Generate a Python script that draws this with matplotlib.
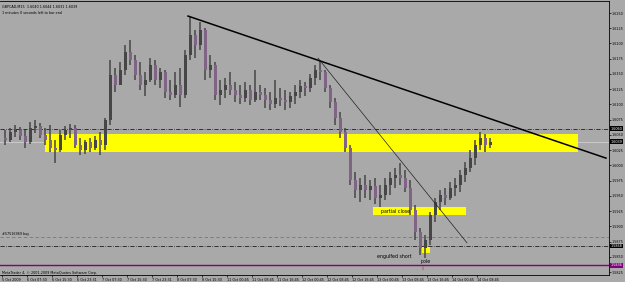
import matplotlib
matplotlib.use("Agg")
import matplotlib.pyplot as plt
from matplotlib.patches import Rectangle
import numpy as np

HEADER = "GBPCAD,M15  1.6040 1.6044 1.6031 1.6039"
SUBHEADER = "1 minutes 0 seconds left to bar end"
COPYRIGHT = "MetaTrader 4, \u00a9 2001-2009 MetaQuotes Software Corp."

# M15 bars (resampled, one bar every ~5 px)
OPEN = [1.6045, 1.6042, 1.6055, 1.6058, 1.6048, 1.6038, 1.6061, 1.6065, 1.6050, 1.6042,
        1.6029, 1.6025, 1.6050, 1.6058, 1.6061, 1.6034, 1.6025, 1.6038, 1.6029, 1.6042,
        1.6034, 1.6075, 1.6148, 1.6132, 1.6157, 1.6186, 1.6173, 1.6148, 1.6132, 1.6140,
        1.6165, 1.6140, 1.6153, 1.6120, 1.6116, 1.6132, 1.6116, 1.6181, 1.6214, 1.6198,
        1.6222, 1.6157, 1.6165, 1.6116, 1.6124, 1.6132, 1.6124, 1.6116, 1.6110, 1.6124,
        1.6107, 1.6120, 1.6116, 1.6107, 1.6101, 1.6110, 1.6107, 1.6104, 1.6114, 1.6120,
        1.6130, 1.6127, 1.6143, 1.6157, 1.6153, 1.6127, 1.6104, 1.6078, 1.6055, 1.6029,
        1.5976, 1.5960, 1.5968, 1.5960, 1.5966, 1.5947, 1.5952, 1.5968, 1.5979, 1.5984,
        1.5979, 1.5963, 1.5927, 1.5891, 1.5865, 1.5878, 1.5919, 1.5940, 1.5952, 1.5947,
        1.5963, 1.5968, 1.5984, 1.5996, 1.6012, 1.6034, 1.6045, 1.6034]
HIGH = [1.6058, 1.6061, 1.6066, 1.6063, 1.6058, 1.6071, 1.6075, 1.6070, 1.6061, 1.6066,
        1.6042, 1.6058, 1.6065, 1.6068, 1.6066, 1.6045, 1.6042, 1.6045, 1.6048, 1.6055,
        1.6078, 1.6173, 1.6160, 1.6170, 1.6198, 1.6206, 1.6181, 1.6170, 1.6153, 1.6176,
        1.6173, 1.6160, 1.6157, 1.6140, 1.6153, 1.6160, 1.6189, 1.6243, 1.6222, 1.6235,
        1.6225, 1.6181, 1.6170, 1.6140, 1.6143, 1.6153, 1.6137, 1.6132, 1.6137, 1.6132,
        1.6157, 1.6132, 1.6127, 1.6120, 1.6140, 1.6127, 1.6124, 1.6120, 1.6132, 1.6140,
        1.6137, 1.6150, 1.6165, 1.6173, 1.6157, 1.6132, 1.6110, 1.6088, 1.6061, 1.6034,
        1.5989, 1.5979, 1.5984, 1.5976, 1.5979, 1.5968, 1.5979, 1.5989, 1.5996, 1.6004,
        1.5993, 1.5976, 1.5935, 1.5897, 1.5886, 1.5924, 1.5947, 1.5960, 1.5963, 1.5973,
        1.5979, 1.5993, 1.6006, 1.6025, 1.6042, 1.6055, 1.6052, 1.6045]
LOW = [1.6034, 1.6038, 1.6047, 1.6042, 1.6029, 1.6035, 1.6053, 1.6045, 1.6034, 1.6022,
       1.6004, 1.6022, 1.6042, 1.6045, 1.6029, 1.6017, 1.6019, 1.6022, 1.6025, 1.6017,
       1.6025, 1.6066, 1.6120, 1.6132, 1.6148, 1.6165, 1.6140, 1.6124, 1.6114, 1.6137,
       1.6132, 1.6127, 1.6110, 1.6107, 1.6110, 1.6096, 1.6110, 1.6173, 1.6176, 1.6189,
       1.6140, 1.6143, 1.6107, 1.6099, 1.6110, 1.6116, 1.6104, 1.6101, 1.6104, 1.6099,
       1.6104, 1.6107, 1.6094, 1.6091, 1.6094, 1.6097, 1.6091, 1.6094, 1.6101, 1.6110,
       1.6114, 1.6120, 1.6132, 1.6140, 1.6120, 1.6094, 1.6066, 1.6045, 1.6022, 1.5968,
       1.5947, 1.5940, 1.5947, 1.5943, 1.5937, 1.5932, 1.5943, 1.5952, 1.5963, 1.5968,
       1.5957, 1.5919, 1.5878, 1.5853, 1.5848, 1.5869, 1.5907, 1.5927, 1.5935, 1.5943,
       1.5950, 1.5957, 1.5973, 1.5989, 1.6001, 1.6025, 1.6022, 1.6029]
CLOSE = [1.6042, 1.6055, 1.6058, 1.6048, 1.6038, 1.6061, 1.6065, 1.6050, 1.6042, 1.6029,
         1.6025, 1.6050, 1.6058, 1.6061, 1.6034, 1.6025, 1.6038, 1.6029, 1.6042, 1.6034,
         1.6075, 1.6148, 1.6132, 1.6157, 1.6186, 1.6173, 1.6148, 1.6132, 1.6140, 1.6165,
         1.6140, 1.6153, 1.6120, 1.6116, 1.6132, 1.6116, 1.6181, 1.6214, 1.6198, 1.6222,
         1.6157, 1.6165, 1.6116, 1.6124, 1.6132, 1.6124, 1.6116, 1.6110, 1.6124, 1.6107,
         1.6120, 1.6116, 1.6107, 1.6101, 1.6110, 1.6107, 1.6104, 1.6114, 1.6120, 1.6130,
         1.6127, 1.6143, 1.6157, 1.6153, 1.6127, 1.6104, 1.6078, 1.6055, 1.6029, 1.5976,
         1.5960, 1.5968, 1.5960, 1.5966, 1.5947, 1.5952, 1.5968, 1.5979, 1.5984, 1.5979,
         1.5963, 1.5927, 1.5891, 1.5865, 1.5878, 1.5919, 1.5940, 1.5952, 1.5947, 1.5963,
         1.5968, 1.5984, 1.5996, 1.6012, 1.6034, 1.6045, 1.6034, 1.6039]

TIME_LABELS = ["5 Oct 2009", "6 Oct 07:30", "6 Oct 15:30", "6 Oct 23:31", "7 Oct 07:30",
               "7 Oct 15:30", "7 Oct 23:31", "8 Oct 07:30", "8 Oct 15:30", "11 Oct 00:45",
               "11 Oct 08:45", "11 Oct 16:45", "12 Oct 00:45", "12 Oct 08:45", "12 Oct 16:45",
               "13 Oct 00:45", "13 Oct 08:45", "13 Oct 16:45", "14 Oct 00:45", "14 Oct 08:45"]
TIME_TICK_BARS = [-0.66, 4.34, 9.34, 14.34, 19.34, 24.34, 29.34, 34.34, 39.34, 44.34,
                  49.34, 54.34, 59.34, 64.34, 69.34, 74.34, 79.34, 84.34, 89.34, 94.34]
PRICE_TICKS = [1.6250, 1.6225, 1.6200, 1.6175, 1.6150, 1.6125, 1.6100, 1.6075, 1.6050,
               1.6025, 1.6000, 1.5975, 1.5950, 1.5925, 1.5900, 1.5875, 1.5850, 1.5825]

# drawn objects: (bar, price) anchors
TREND_MAIN = [(36.6, 1.6245), (120.2, 1.6012)]
TREND_THIN = [(62.6, 1.6176), (92.4, 1.5873)]
ZONE = (8.0, 114.6, 1.6022, 1.6052)
PARTIAL_BOX = (73.6, 92.2, 1.5919, 1.5932)
POLE_BOX = (83.3, 84.9, 1.5857, 1.5867)

BID = 1.6039
TOP_LEVEL = 1.6060
ORDER_OPEN = 1.5883
ORDER_SL = 1.5868
ALERT_LEVEL = 1.5836

BG = "#a9a9a9"
CANDLE = "#464646"
BEAR = "#7f6486"
FS = 2.4


def main():
    fig = plt.figure(figsize=(6.25, 2.82), dpi=100)
    fig.patch.set_facecolor(BG)
    ax = fig.add_axes([0.0, 7 / 282, 609 / 625, 274 / 282])
    ax.set_facecolor(BG)

    n = len(CLOSE)
    x = np.arange(n)
    o = np.array(OPEN)
    c = np.array(CLOSE)

    ax.axhline(BID, color="#c8c8c8", lw=0.8, zorder=0.5)
    for x0, x1, y0, y1 in [ZONE, PARTIAL_BOX, POLE_BOX]:
        ax.add_patch(Rectangle((x0, y0), x1 - x0, y1 - y0, facecolor="#ffff00",
                               edgecolor="none", zorder=1))

    ax.vlines(x, LOW, HIGH, color=CANDLE, lw=1.1, zorder=2)
    up = c >= o
    ax.bar(x[up], (c - o)[up], bottom=o[up], width=0.6, color=CANDLE, zorder=2.1)
    ax.bar(x[~up], (o - c)[~up], bottom=c[~up], width=0.6, color=BEAR, zorder=2.1)

    ax.axhline(TOP_LEVEL, color="black", lw=0.5, ls=(0, (6, 2, 1, 2)), zorder=1.5)
    ax.axhline(ORDER_OPEN, color="#d05050", lw=0.6, ls=(0, (4, 3)), zorder=1.5)
    ax.axhline(ORDER_SL, color="black", lw=0.5, ls=(0, (6, 2, 1, 2)), zorder=1.5)
    ax.axhline(ALERT_LEVEL, color="#800080", lw=1.0, zorder=1.5)

    (a0, p0), (a1, p1) = TREND_MAIN
    ax.plot([a0, a1], [p0, p1], color="black", lw=1.1, zorder=3)
    (a0, p0), (a1, p1) = TREND_THIN
    ax.plot([a0, a1], [p0, p1], color="#202020", lw=0.5, zorder=3)

    ax.text(75.2, 1.5924, "partial close", fontsize=3.4, va="center", ha="left", zorder=4)
    ax.text(74.4, 1.5851, "engulfed short", fontsize=3.4, va="center", ha="left", zorder=4)
    ax.text(83.2, 1.5843, "pole", fontsize=3.4, va="center", ha="left", zorder=4)
    ax.text(83.4, 1.5831, "\u21e7", fontsize=3.6, color="#e03030", va="center", ha="center", zorder=4)
    ax.text(-0.6, ORDER_OPEN + 0.0002, "#57516969 buy", fontsize=FS, va="bottom", ha="left")

    ax.set_xlim(-1, 120.8)
    ax.set_ylim(1.58203, 1.62697)

    ax.yaxis.tick_right()
    ax.set_yticks(PRICE_TICKS)
    ax.set_yticklabels([f"{p:.4f}" for p in PRICE_TICKS])
    ax.tick_params(axis="y", labelsize=FS, length=1.2, width=0.5, pad=0.6)
    ax.set_xticks(TIME_TICK_BARS)
    ax.set_xticklabels(TIME_LABELS, ha="left")
    ax.tick_params(axis="x", labelsize=FS, length=1.5, width=0.5, pad=0.8)

    tr = ax.get_yaxis_transform()
    for level, face in [(TOP_LEVEL, "black"), (BID, "black"), (ORDER_SL, "black"),
                        (ALERT_LEVEL, "#800080")]:
        ax.text(1.003, level, f"{level:.4f}", transform=tr, fontsize=FS, color="white",
                va="center", ha="left", clip_on=False,
                bbox=dict(boxstyle="square,pad=0.12", facecolor=face, edgecolor="none"))

    ax.spines["left"].set_visible(False)
    for side in ["top", "right", "bottom"]:
        ax.spines[side].set_linewidth(0.6)

    fig.text(2 / 625, 1 - 7 / 282, HEADER, fontsize=FS, va="center", ha="left")
    fig.text(2 / 625, 1 - 13 / 282, SUBHEADER, fontsize=FS, va="center", ha="left")
    ax.text(-0.6, 1.5823, COPYRIGHT, fontsize=FS, va="center", ha="left")

    fig.savefig("out.png", dpi=100, facecolor=BG)
    plt.close(fig)


if __name__ == "__main__":
    main()
